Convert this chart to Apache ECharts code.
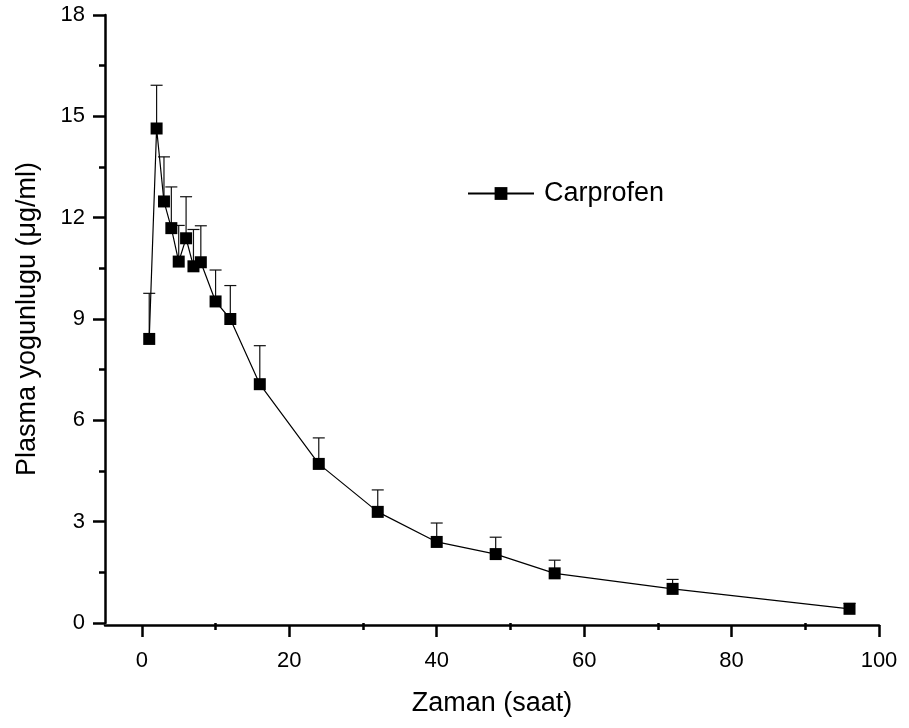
<!DOCTYPE html>
<html>
<head>
<meta charset="utf-8">
<script src="https://cdn.jsdelivr.net/npm/echarts@6/dist/echarts.min.js"></script>
<style>
  html, body { margin: 0; padding: 0; background: #fff; }
  #chart { width: 909px; height: 728px; }
</style>
</head>
<body>
<div id="chart"></div>
<script>
// Carprofen plasma concentration over time (mean + upper SD)
const times = [1, 2, 3, 4, 5, 6, 7, 8, 10, 12, 16, 24, 32, 40, 48, 56, 72, 96];
const conc  = [8.41, 14.64, 12.48, 11.69, 10.70, 11.39, 10.56, 10.68, 9.52, 9.00, 7.07, 4.71, 3.29, 2.40, 2.04, 1.47, 1.01, 0.42];
const sdUp  = [1.35, 1.28, 1.32, 1.22, 1.07, 1.23, 1.09, 1.08, 0.93, 0.99, 1.14, 0.77, 0.65, 0.56, 0.50, 0.39, 0.28, 0.16];
const xMajorTicks = [0, 20, 40, 60, 80, 100];
const xMinorTicks = [10, 30, 50, 70, 90];
const seriesName = 'Carprofen';

const FONT = '"Liberation Sans", Arial, Helvetica, sans-serif';

const lineData = times.map((t, i) => [t, conc[i]]);
const errData = times.map((t, i) => [t, conc[i], conc[i] + sdUp[i]]);

const chart = echarts.init(document.getElementById('chart'), null, { renderer: 'canvas' });

chart.setOption({
  animation: false,
  backgroundColor: '#ffffff',
  grid: { left: 105, top: 15, width: 774, height: 608, containLabel: false },
  legend: {
    left: 467,
    top: 180,
    padding: 0,
    itemWidth: 66,
    itemHeight: 16,
    data: [seriesName],
    textStyle: { fontFamily: FONT, fontSize: 27, color: '#000', padding: [0, 0, 0, 5] }
  },
  xAxis: [
    {
      type: 'value',
      position: 'bottom',
      offset: 2,
      min: -5,
      max: 100,
      name: 'Zaman (saat)',
      nameLocation: 'middle',
      nameGap: 65,
      nameTextStyle: { fontFamily: FONT, fontSize: 27, color: '#000' },
      axisLine: { show: true, onZero: false, lineStyle: { color: '#000', width: 2.5 } },
      axisTick: { show: true, inside: false, length: 12, customValues: xMajorTicks,
                  lineStyle: { color: '#000', width: 2.5 } },
      axisLabel: { show: true, customValues: xMajorTicks, margin: 25,
                   fontFamily: FONT, fontSize: 22, color: '#000' },
      splitLine: { show: false }
    },
    {
      type: 'value',
      position: 'bottom',
      offset: 2,
      min: -5,
      max: 100,
      axisLine: { show: false },
      axisTick: { show: true, inside: false, length: 7, customValues: xMinorTicks,
                  lineStyle: { color: '#000', width: 2.5 } },
      axisLabel: { show: false },
      splitLine: { show: false }
    }
  ],
  yAxis: {
    type: 'value',
    min: 0,
    max: 18,
    interval: 3,
    name: 'Plasma yogunlugu (\u03bcg/ml)',
    nameLocation: 'middle',
    nameGap: 64,
    nameTextStyle: { fontFamily: FONT, fontSize: 27, color: '#000' },
    axisLine: { show: true, onZero: false, lineStyle: { color: '#000', width: 2.5 } },
    axisTick: { show: true, inside: false, length: 12, lineStyle: { color: '#000', width: 2.5 } },
    minorTick: { show: true, splitNumber: 2, length: 6, lineStyle: { color: '#000', width: 2.5 } },
    axisLabel: { margin: 20, fontFamily: FONT, fontSize: 22, color: '#000' },
    splitLine: { show: false },
    minorSplitLine: { show: false }
  },
  series: [
    {
      name: 'sd',
      type: 'custom',
      xAxisIndex: 0,
      yAxisIndex: 0,
      z: 1,
      silent: true,
      data: errData,
      encode: { x: 0, y: [1, 2] },
      renderItem: function (params, api) {
        const x = api.value(0);
        const base = api.coord([x, api.value(1)]);
        const top = api.coord([x, api.value(2)]);
        const half = 6;
        const style = { stroke: '#111', lineWidth: 1.2 };
        return {
          type: 'group',
          children: [
            { type: 'line', shape: { x1: base[0], y1: base[1], x2: top[0], y2: top[1] }, style: style },
            { type: 'line', shape: { x1: top[0] - half, y1: top[1], x2: top[0] + half, y2: top[1] }, style: style }
          ]
        };
      }
    },
    {
      name: seriesName,
      type: 'line',
      xAxisIndex: 0,
      yAxisIndex: 0,
      z: 3,
      data: lineData,
      symbol: 'rect',
      symbolSize: 12,
      showAllSymbol: true,
      lineStyle: { color: '#000', width: 1.2 },
      itemStyle: { color: '#000', borderWidth: 0 }
    }
  ]
});
</script>
</body>
</html>
